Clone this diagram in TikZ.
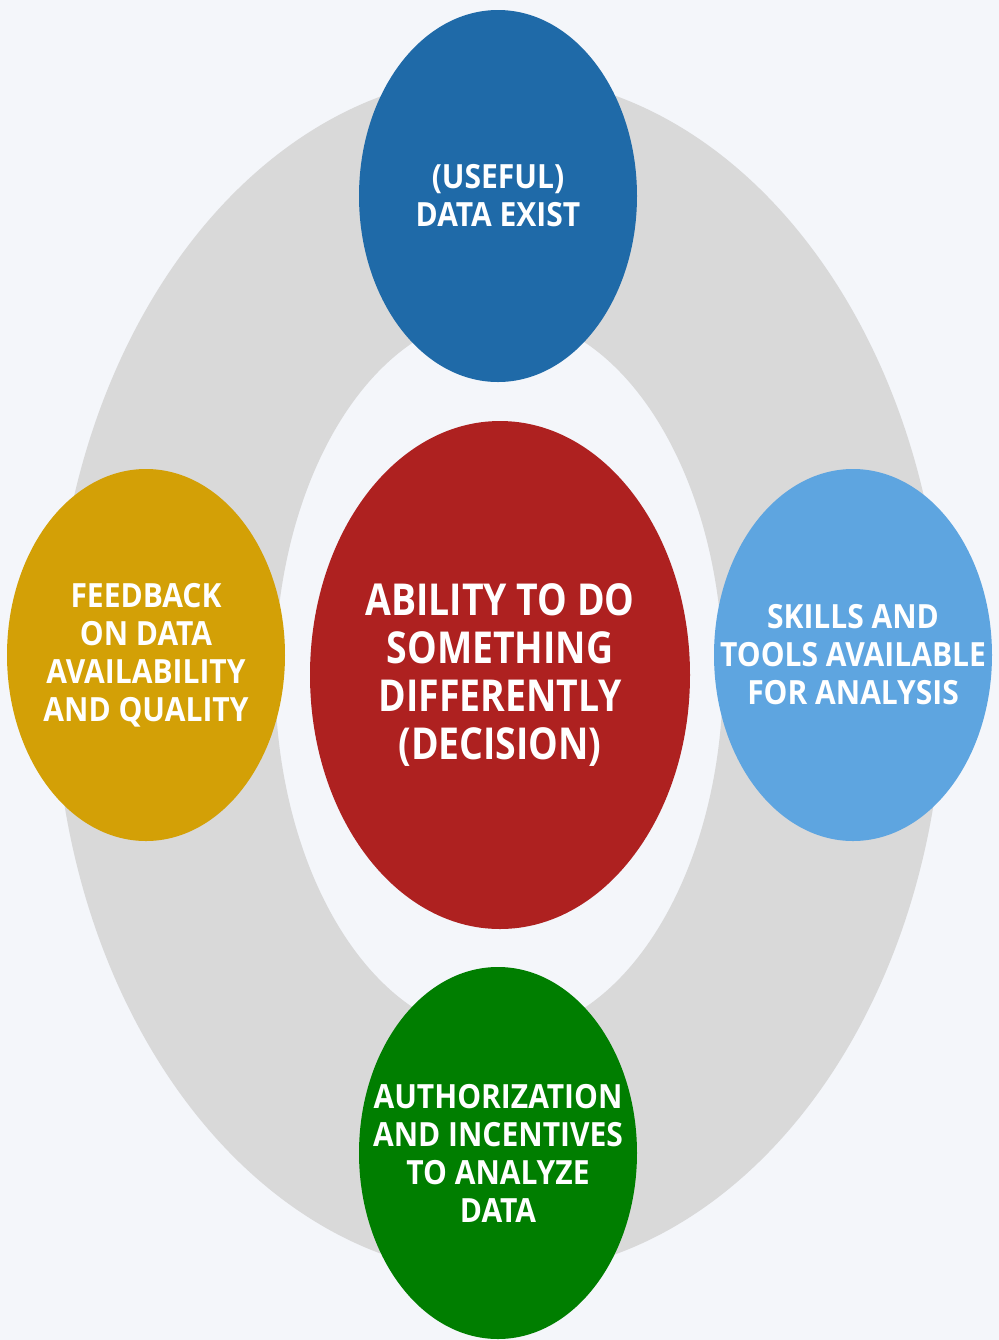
\documentclass[tikz,border=0pt]{standalone}
\usepackage{fontspec}
\setmainfont{Open Sans}
\newfontfamily\smallfnt[FakeStretch=0.9]{Open Sans}
\newfontfamily\bigfnt[FakeStretch=0.85]{Open Sans}
\usepackage{tikz}
\definecolor{bg}{HTML}{F4F6FA}
\definecolor{ring}{HTML}{D9D9D9}
\definecolor{dblue}{HTML}{1F6AA8}
\definecolor{lblue}{HTML}{5EA5E0}
\definecolor{dred}{HTML}{AE2120}
\definecolor{gold}{HTML}{D3A006}
\definecolor{dgreen}{HTML}{007E00}

\begin{document}
\begin{tikzpicture}[x = .75pt, y = -.75pt,
  txt/.style = {text = white, align = center, font = \smallfnt\bfseries\fontsize{25}{28.5}\selectfont},
  big/.style = {text = white, align = center, font = \bigfnt\bfseries\fontsize{33}{36}\selectfont}]
  \fill[bg] (0, 0) rectangle (999, 1340);
  \useasboundingbox (0, 0) rectangle (999, 1340);
  % ring
  \fill[ring, even odd rule] (499, 675) ellipse (445 and 600) (499, 675) ellipse (224 and 360);
  % bubbles
  \fill[dred] (500, 675) ellipse (190 and 254);
  \fill[dblue] (498, 196) ellipse (139 and 186);
  \fill[dgreen] (498, 1153) ellipse (139 and 186);
  \fill[gold] (146, 655) ellipse (139 and 186);
  \fill[lblue] (853, 655) ellipse (139 and 186);
  \node[big] at (500, 675) (decision) {ABILITY TO DO\\SOMETHING\\DIFFERENTLY\\(DECISION)};
  \node[txt] at (498, 196) (exist) {(USEFUL)\\DATA EXIST};
  \node[txt] at (498, 1153) (incent) {AUTHORIZATION\\AND INCENTIVES\\TO ANALYZE\\DATA};
  \node[txt] at (146, 655) (feedback) {FEEDBACK\\ON DATA\\AVAILABILITY\\AND QUALITY};
  \node[txt] at (853, 655) (skills) {SKILLS AND\\TOOLS AVAILABLE\\FOR ANALYSIS};
\end{tikzpicture}
\end{document}
